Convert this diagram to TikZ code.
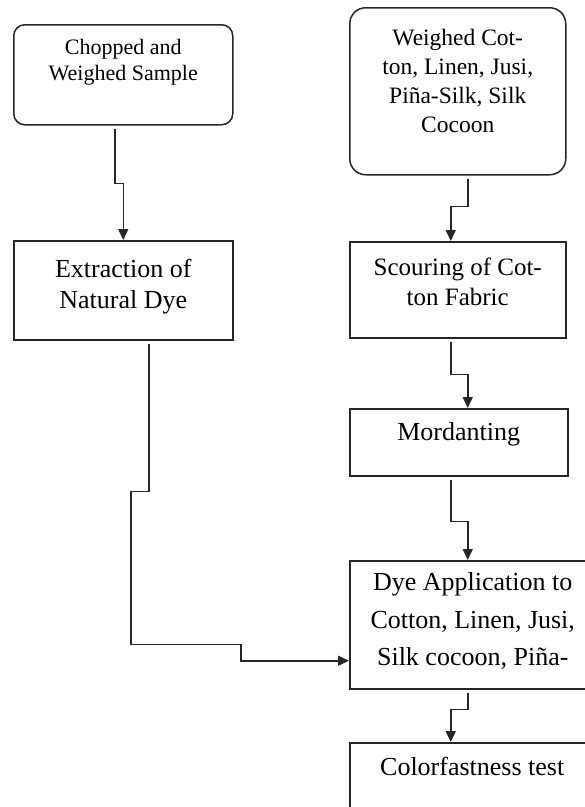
\documentclass[tikz,border=0pt]{standalone}
\usepackage{fontspec}
\setmainfont{Liberation Serif}
\usetikzlibrary{arrows.meta}
\definecolor{inkgray}{rgb}{0.15, 0.15, 0.15}
% Text of one box: width, height, first baseline, font size, line skip, lines
\newcommand{\cell}[6]{%
  \parbox[c][#2][t]{#1}{\centering\fontsize{#4}{#5}\selectfont\rule{0pt}{#3}#6}}
\tikzset{
    stepbox/.style={
        draw=inkgray,
        line width=1.5pt,
        inner sep=0pt,
        anchor=north west,
    },
    roundbox/.style={
        stepbox,
        rounded corners=#1,
    },
    flow/.style={
        draw=inkgray,
        line width=1.5pt,
        -{Triangle[length=11pt,width=10pt]},
        shorten <=3pt,
    },
}

\begin{document}
\begin{tikzpicture}[x=1pt, y=-1pt]
    \useasboundingbox (0, 0) rectangle (585, 807);

    % Left column
    \node[roundbox=11pt] (chop) at (13, 24)
      {\cell{219pt}{100pt}{30pt}{22pt}{26pt}{Chopped and\\Weighed Sample}};
    \node[stepbox] (extract) at (13, 240)
      {\cell{219pt}{99pt}{37pt}{26pt}{31pt}{Extraction of\\Natural Dye}};

    % Right column
    \node[roundbox=16pt] (weigh) at (349, 7)
      {\cell{216pt}{167pt}{38pt}{23.5pt}{29pt}{Weighed Cot-\\ton, Linen, Jusi,\\Pi\~na-Silk, Silk\\Cocoon}};
    \node[stepbox] (scour) at (349, 241)
      {\cell{216pt}{96pt}{34pt}{25pt}{30pt}{Scouring of Cot-\\ton Fabric}};
    \node[stepbox] (mord) at (349, 408)
      {\cell{218pt}{67pt}{32pt}{26pt}{31pt}{Mordanting}};
    \node[stepbox] (dye) at (349, 560)
      {\cell{246pt}{128pt}{30pt}{26pt}{37.5pt}{Dye Application to\\Cotton, Linen, Jusi,\\Silk cocoon, Pi\~na-}};
    \node[stepbox] (color) at (349, 742)
      {\cell{245pt}{100pt}{33pt}{26pt}{31pt}{Colorfastness test}};

    % Connectors, each with a small jog
    \draw[flow] ([xshift=-8.5pt]chop.south) -- ++(0, 58) -| (extract.north);
    \draw[flow] ([xshift=25.5pt]extract.south) -- ++(0, 151) -- ++(-18, 0)
      -- ++(0, 153) -- ++(110, 0) |- ([yshift=-36pt]dye.west);
    \draw[flow] ([xshift=10pt]weigh.south) -- ++(0, 31) -| ([xshift=-7pt]scour.north);
    \draw[flow] ([xshift=-7pt]scour.south) -- ++(0, 36) -| ([xshift=9pt]mord.north);
    \draw[flow] ([xshift=-8pt]mord.south) -- ++(0, 45) -| ([xshift=-5pt]dye.north);
    \draw[flow] ([xshift=-5pt]dye.south) -- ++(0, 20) -| ([xshift=-21.5pt]color.north);

\end{tikzpicture}
\end{document}
